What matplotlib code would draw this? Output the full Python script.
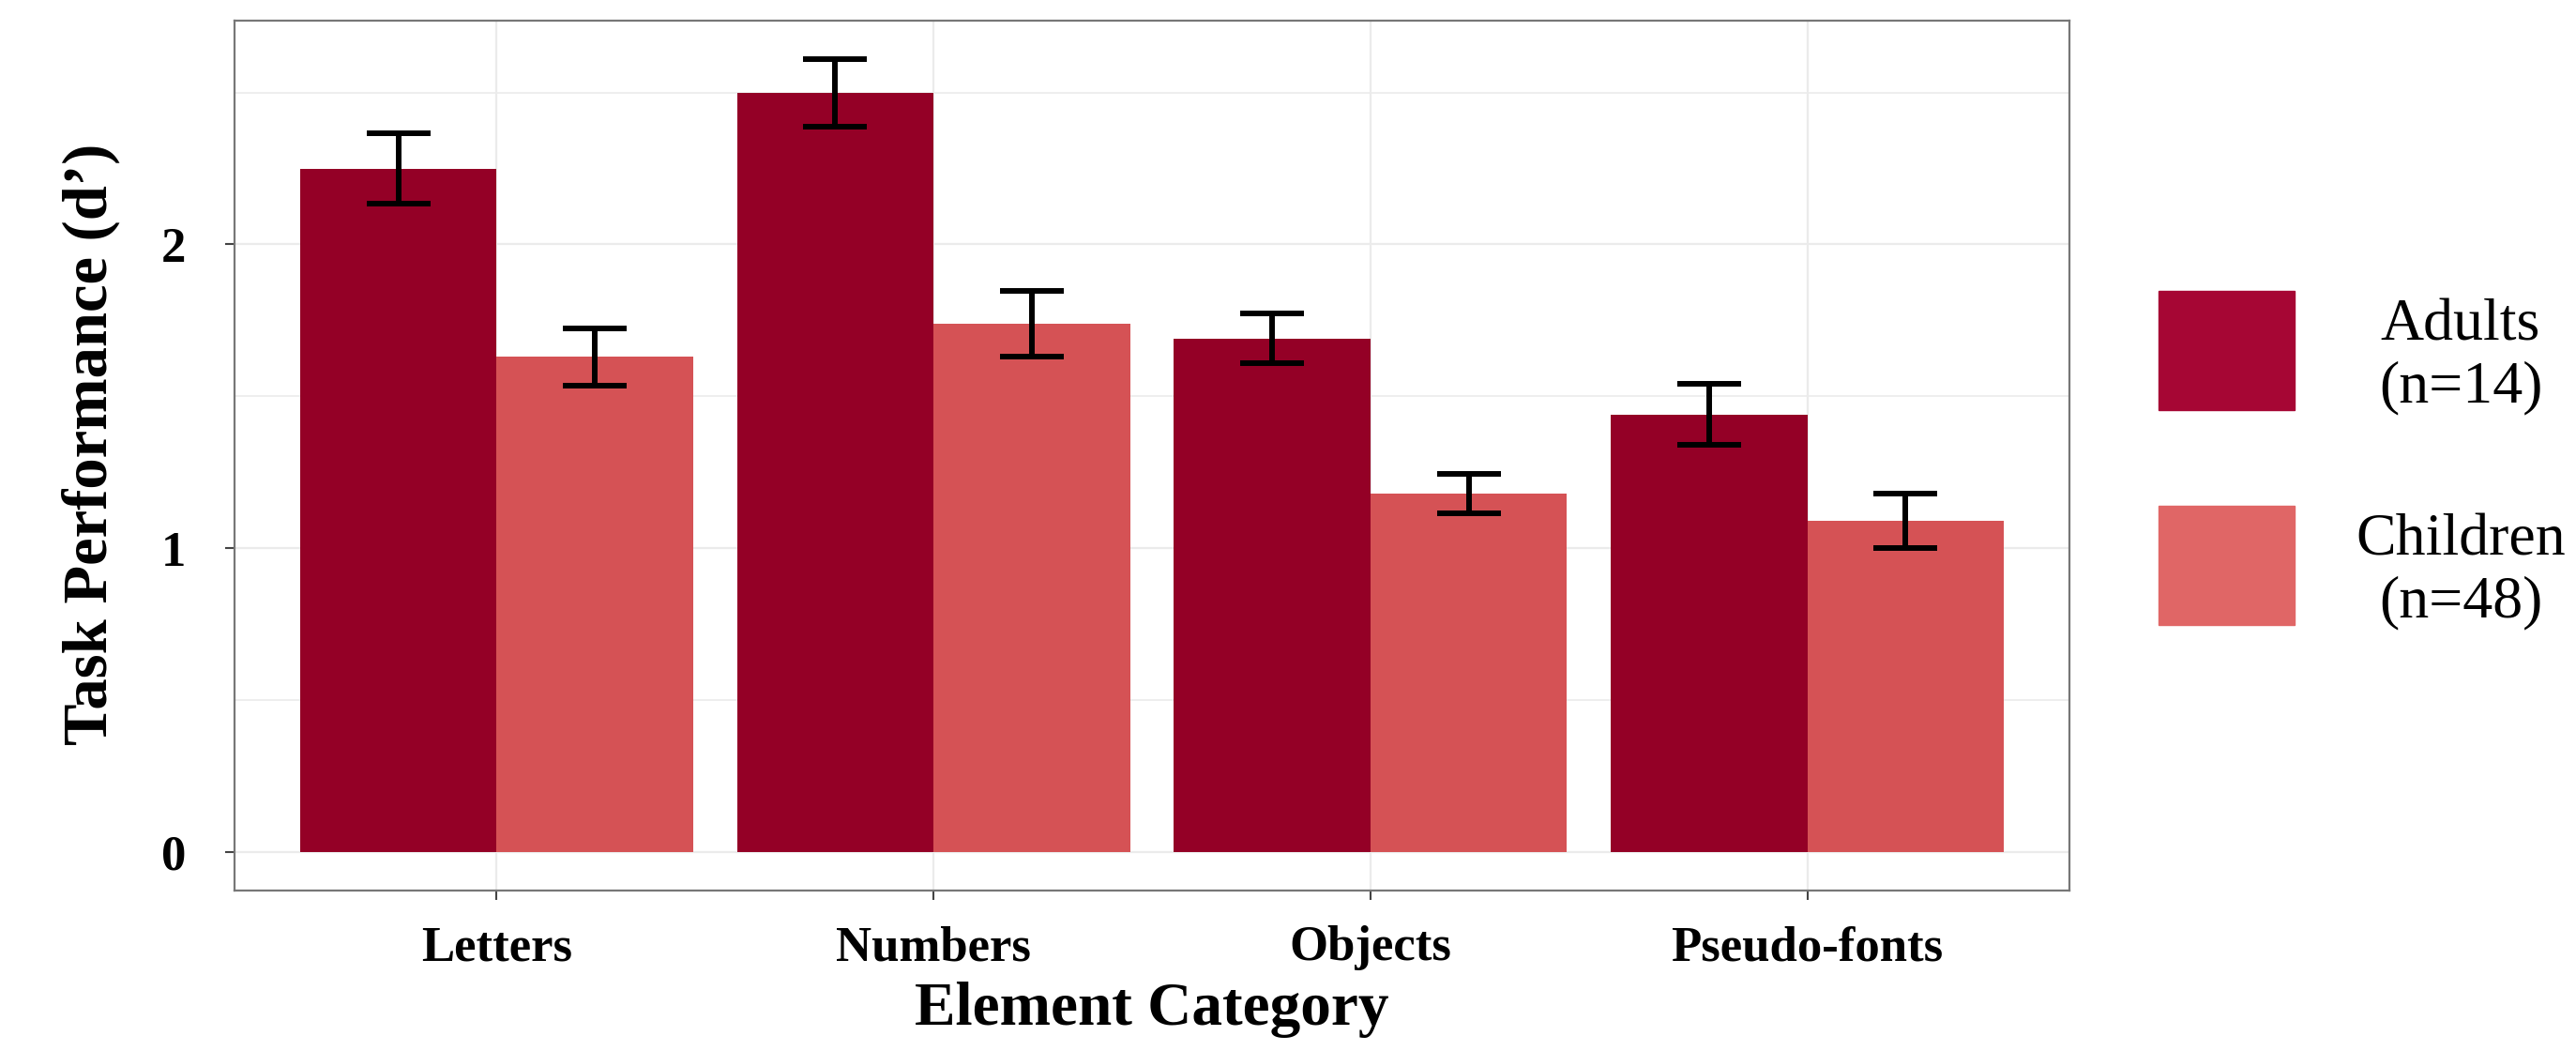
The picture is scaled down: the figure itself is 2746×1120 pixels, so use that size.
import numpy as np
import matplotlib
matplotlib.use("Agg")
from matplotlib import pyplot as plt
from matplotlib.patches import Rectangle

plt.rcParams['font.family'] = ['Liberation Serif', 'DejaVu Serif']

categories = ['Letters', 'Numbers', 'Objects', 'Pseudo-fonts']
groups = ['Adults\n(n=14)', 'Children\n(n=48)']
adults_mean = [2.25, 2.50, 1.69, 1.44]
adults_se = [0.117, 0.111, 0.082, 0.101]
children_mean = [1.63, 1.74, 1.18, 1.09]
children_se = [0.094, 0.108, 0.064, 0.090]

bar_colors = ['#940026', '#D55255']
key_colors = ['#A60634', '#E06666']

fig = plt.figure(figsize=(27.46, 11.20), dpi=100)
ax = fig.add_axes([250 / 2746, 1 - 949 / 1120, (2206 - 250) / 2746, (949 - 21.7) / 1120])

x = np.arange(1, len(categories) + 1)
width = 0.45
means = [adults_mean, children_mean]
errs = [adults_se, children_se]
for i in range(2):
    pos = x + (i - 0.5) * width
    ax.bar(pos, means[i], width=width, color=bar_colors[i], zorder=2)
    ax.errorbar(pos, means[i], yerr=errs[i], fmt='none', ecolor='black',
                elinewidth=4.3, capsize=24.8, capthick=4.3, zorder=3)

ax.set_xlim(0.4, 4.6)
ax.set_ylim(-0.128, 2.738)
ax.set_yticks([0, 1, 2])
ax.set_yticks([0.5, 1.5, 2.5], minor=True)
ax.set_xticks(x)
ax.set_xticklabels(categories, fontsize=38, fontweight='bold')
ax.set_yticklabels(['0', '1', '2'], fontsize=38, fontweight='bold')

ax.grid(True, which='major', color='#EBEBEB', linewidth=1.6, zorder=0)
ax.grid(True, which='minor', axis='y', color='#EBEBEB', linewidth=1.2, zorder=0)
ax.set_axisbelow(True)
ax.tick_params(axis='both', which='major', length=7, width=1.5, color='#444444')
ax.tick_params(axis='x', pad=20)
ax.tick_params(axis='y', pad=30)
ax.tick_params(which='minor', length=0)
for s in ax.spines.values():
    s.set_color('#777777')
    s.set_linewidth(1.6)

ax.set_xlabel('Element Category', fontsize=47, fontweight='bold', va='center')
ax.xaxis.set_label_coords(0.5, -0.137)
ax.set_ylabel('Task Performance (d\u2019)', fontsize=48, fontweight='bold', va='center')
ax.yaxis.set_label_coords(-0.0782, 0.513)

# legend drawn by hand so both labels sit centred beside their keys
key_tops = [310, 539]
for i in range(2):
    top = key_tops[i]
    fig.add_artist(Rectangle((2301 / 2746, 1 - (top + 127) / 1120), 145 / 2746, 127 / 1120,
                             transform=fig.transFigure, color=key_colors[i]))
    fig.text(2623 / 2746, 1 - (top + 63.5 + 7) / 1120, groups[i], fontsize=46,
             ha='center', va='center', multialignment='center', linespacing=1.2)

fig.savefig('out.png', dpi=100)
